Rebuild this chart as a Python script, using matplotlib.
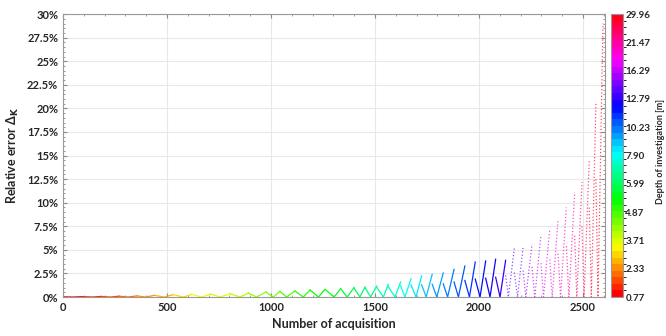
import numpy as np
import matplotlib
matplotlib.use('Agg')
import matplotlib.pyplot as plt
from matplotlib.colors import BoundaryNorm
from matplotlib.cm import ScalarMappable
from matplotlib.ticker import MultipleLocator, FuncFormatter

# each segment (one depth level): start point -> zero point -> end point
seg_start = [0, 95, 185, 270, 355, 440, 530, 619, 710, 803, 891, 975, 1043, 1115,
             1188, 1260, 1335, 1399, 1452, 1508, 1564, 1623, 1673, 1724, 1775, 1828,
             1880, 1932, 1982, 2032, 2080, 2128, 2170, 2212, 2255, 2298, 2340, 2380,
             2420, 2460, 2495, 2530, 2562]
seg_zero = [48, 140, 228, 312, 398, 485, 578, 667, 755, 851, 931, 1011, 1075, 1155,
            1228, 1303, 1366, 1427, 1479, 1540, 1596, 1644, 1697, 1746, 1797, 1849,
            1901, 1954, 2005, 2053, 2101, 2141, 2185, 2225, 2268, 2310, 2352, 2392,
            2432, 2470, 2505, 2540, 2572]
seg_end = [95, 185, 270, 355, 440, 530, 619, 710, 803, 891, 975, 1043, 1115, 1188,
           1260, 1335, 1399, 1452, 1508, 1564, 1623, 1673, 1724, 1775, 1828, 1880,
           1932, 1982, 2032, 2080, 2128, 2170, 2212, 2255, 2298, 2340, 2380, 2420,
           2460, 2495, 2530, 2562, 2596]
# relative error in %
val_start = [0.02, 0.04, 0.06, 0.09, 0.12, 0.18, 0.25, 0.28, 0.32, 0.35, 0.42, 0.53,
             0.6, 0.64, 0.74, 0.81, 0.88, 0.95, 1.0, 1.05, 1.1, 1.2, 1.3, 1.3, 1.35,
             1.4, 1.6, 1.75, 1.9, 2.0, 2.1, 2.3, 2.6, 2.8, 3.2, 3.6, 4.0, 4.6, 5.4,
             6.5, 7.5, 9.5, 12.5]
val_end = [0.04, 0.06, 0.09, 0.12, 0.18, 0.25, 0.28, 0.32, 0.35, 0.42, 0.53, 0.6,
           0.64, 0.74, 0.81, 0.88, 1.0, 1.06, 1.17, 1.34, 1.59, 1.94, 2.23, 2.4, 2.55,
           2.93, 3.29, 3.71, 3.82, 4.0, 3.9, 5.2, 5.3, 5.6, 6.6, 7.2, 8.2, 9.5, 11.1,
           12.2, 14.5, 20.5, 29.0]

depth_labels = ['0.77', '2.33', '3.71', '4.87', '5.99', '7.90', '10.23', '12.79',
                '16.29', '21.47', '29.96']

dotted_from = 31


def main():
    plt.rcParams['font.family'] = ['Lato', 'DejaVu Sans']
    plt.rcParams['font.weight'] = 'bold'

    fig = plt.figure(figsize=(6.66, 3.36), dpi=100)
    ax = fig.add_axes([0.0946, 0.116, 0.8139, 0.842])

    n = len(seg_start)
    cmap = plt.get_cmap('hsv', n)

    for i in range(n):
        xs = [seg_start[i], seg_zero[i], seg_end[i]]
        ys = [val_start[i], 0, val_end[i]]
        if i >= dotted_from:
            ax.plot(xs, ys, color=cmap(i), lw=0.9, ls=':', alpha=0.7)
        else:
            ax.plot(xs, ys, color=cmap(i), lw=0.9)

    ax.set_xlim(0, 2606)
    ax.set_ylim(0, 30)
    ax.xaxis.set_major_locator(MultipleLocator(500))
    ax.xaxis.set_minor_locator(MultipleLocator(100))
    ax.yaxis.set_major_locator(MultipleLocator(2.5))
    ax.yaxis.set_minor_locator(MultipleLocator(0.5))
    ax.yaxis.set_major_formatter(FuncFormatter(lambda v, p: f'{v:g}%'))
    ax.tick_params(which='both', direction='in', top=True, right=True,
                   colors='#888888', labelcolor='#262626', labelsize=8)
    ax.tick_params(which='major', length=3)
    ax.tick_params(which='minor', length=1.5)
    ax.grid(True, color='#e8e8e8', lw=0.8)
    ax.set_axisbelow(True)
    for s in ax.spines.values():
        s.set_color('#999999')

    ax.set_xlabel('Number of acquisition', fontsize=9, fontweight='bold', color='#262626')
    ax.set_ylabel('Relative error Δ$_{\\mathbf{K}}$', fontsize=9, fontweight='bold',
                  color='#262626', labelpad=4)

    cax = fig.add_axes([0.9175, 0.116, 0.0173, 0.842])
    norm = BoundaryNorm(np.arange(n + 1), n)
    cb = fig.colorbar(ScalarMappable(norm=norm, cmap=cmap), cax=cax)
    cb.set_ticks(np.linspace(0, n, len(depth_labels)))
    cb.set_ticklabels(depth_labels)
    cb.ax.tick_params(labelsize=7, length=0, pad=2, labelcolor='#262626')
    cb.outline.set_edgecolor('#999999')
    fig.text(0.992, 0.548, 'Depth of investigation [m]', rotation=90, fontsize=6.5,
             fontweight='bold', color='#262626', ha='center', va='center')

    fig.savefig('out.png', dpi=100)


if __name__ == "__main__":
    main()
